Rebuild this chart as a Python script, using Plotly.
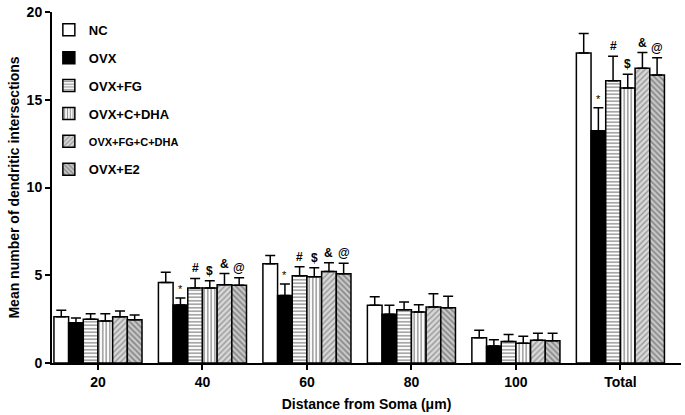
import plotly.graph_objects as go

categories = ["20", "40", "60", "80", "100", "Total"]
groups = ["NC", "OVX", "OVX+FG", "OVX+C+DHA", "OVX+FG+C+DHA", "OVX+E2"]

nc = [2.63, 4.59, 5.66, 3.29, 1.44, 17.66]
ovx = [2.30, 3.31, 3.85, 2.78, 0.97, 13.24]
ovx_fg = [2.50, 4.28, 4.97, 3.04, 1.23, 16.08]
ovx_c_dha = [2.40, 4.28, 4.91, 2.90, 1.12, 15.67]
ovx_fg_c_dha = [2.63, 4.46, 5.21, 3.19, 1.30, 16.79]
ovx_e2 = [2.46, 4.43, 5.08, 3.15, 1.27, 16.41]

nc_err = [0.37, 0.58, 0.46, 0.48, 0.43, 1.12]
ovx_err = [0.27, 0.39, 0.65, 0.51, 0.36, 1.31]
ovx_fg_err = [0.30, 0.54, 0.52, 0.43, 0.39, 1.40]
ovx_c_dha_err = [0.40, 0.41, 0.52, 0.42, 0.41, 0.78]
ovx_fg_c_dha_err = [0.33, 0.64, 0.50, 0.75, 0.40, 0.90]
ovx_e2_err = [0.28, 0.43, 0.60, 0.66, 0.43, 0.99]

sig_marks = ["", "*", "#", "$", "&", "@"]
sig_categories = [1, 2, 5]

values = [nc, ovx, ovx_fg, ovx_c_dha, ovx_fg_c_dha, ovx_e2]
errors = [nc_err, ovx_err, ovx_fg_err, ovx_c_dha_err, ovx_fg_c_dha_err, ovx_e2_err]

styles = [
    dict(color="white", pattern=None),
    dict(color="black", pattern=None),
    dict(color="white", pattern=dict(shape="-", fgcolor="#222", bgcolor="white", size=3.5, solidity=0.4)),
    dict(color="white", pattern=dict(shape="|", fgcolor="#222", bgcolor="white", size=3.5, solidity=0.4)),
    dict(color="#d0d0d0", pattern=dict(shape="/", fgcolor="#555", bgcolor="#d8d8d8", size=4, solidity=0.35)),
    dict(color="#c0c0c0", pattern=dict(shape="\\", fgcolor="#444", bgcolor="#c8c8c8", size=4, solidity=0.4)),
]

FONT = "Liberation Sans, Arial, sans-serif"
xpos = list(range(len(categories)))

fig = go.Figure()
for i, (name, vals, errs, st) in enumerate(zip(groups, values, errors, styles)):
    marker = dict(color=st["color"], line=dict(color="black", width=1.5))
    if st["pattern"] is not None:
        marker["pattern"] = st["pattern"]
    label = "<b>%s</b>" % name
    if name == "OVX+FG+C+DHA":
        label = "<span style='font-size:11px'><b>%s</b></span>" % name
    fig.add_trace(go.Bar(
        x=xpos, y=vals, name=label, legendgroup=name,
        marker=marker,
        error_y=dict(type="data", symmetric=False, array=errs,
                     arrayminus=[0] * len(errs), color="black",
                     thickness=1.5, width=5),
    ))

bargap = 0.157
bw = (1 - bargap) / len(groups)
for i, mark in enumerate(sig_marks):
    if not mark:
        continue
    for c in sig_categories:
        x = c + (i - (len(groups) - 1) / 2) * bw
        y = values[i][c] + errors[i][c]
        fig.add_annotation(
            x=x, y=y, text="<b>%s</b>" % mark if mark != "*" else mark,
            showarrow=False, yanchor="bottom", yshift=1,
            font=dict(family=FONT, size=12 if mark != "*" else 11, color="black"),
        )

fig.update_layout(
    width=685, height=415,
    margin=dict(l=52, r=4, t=6, b=52),
    paper_bgcolor="white", plot_bgcolor="white",
    barmode="group", bargap=bargap, bargroupgap=0,
    font=dict(family=FONT, color="black", size=13),
    showlegend=True,
    legend=dict(x=-0.005, y=0.992, xanchor="left", yanchor="top",
                font=dict(family=FONT, size=13, color="black"),
                tracegroupgap=8, bgcolor="rgba(0,0,0,0)"),
)
fig.update_xaxes(
    tickmode="array", tickvals=xpos,
    ticktext=["<b>%s</b>" % c for c in categories],
    range=[-0.44, 5.58],
    showline=True, linecolor="black", linewidth=2,
    ticks="outside", ticklen=5, tickwidth=2, tickcolor="black",
    tickfont=dict(family=FONT, size=14, color="black"),
    showgrid=False, zeroline=False,
    title=dict(text="<b>Distance from Soma (μm)</b>",
               font=dict(family=FONT, size=14, color="black"), standoff=10),
)
fig.update_yaxes(
    range=[0, 20], tickvals=[0, 5, 10, 15, 20],
    ticktext=["<b>%d</b>" % v for v in [0, 5, 10, 15, 20]],
    ticklabeloverflow="allow",
    showline=True, linecolor="black", linewidth=2,
    ticks="outside", ticklen=5, tickwidth=2, tickcolor="black",
    tickfont=dict(family=FONT, size=14, color="black"),
    showgrid=False, zeroline=False,
    title=dict(text="<b>Mean number of dendritic intersections</b>",
               font=dict(family=FONT, size=14, color="black"), standoff=4),
)

fig.write_html("out.html", config={"displayModeBar": False},
               post_script="document.body.style.margin='0px';")
